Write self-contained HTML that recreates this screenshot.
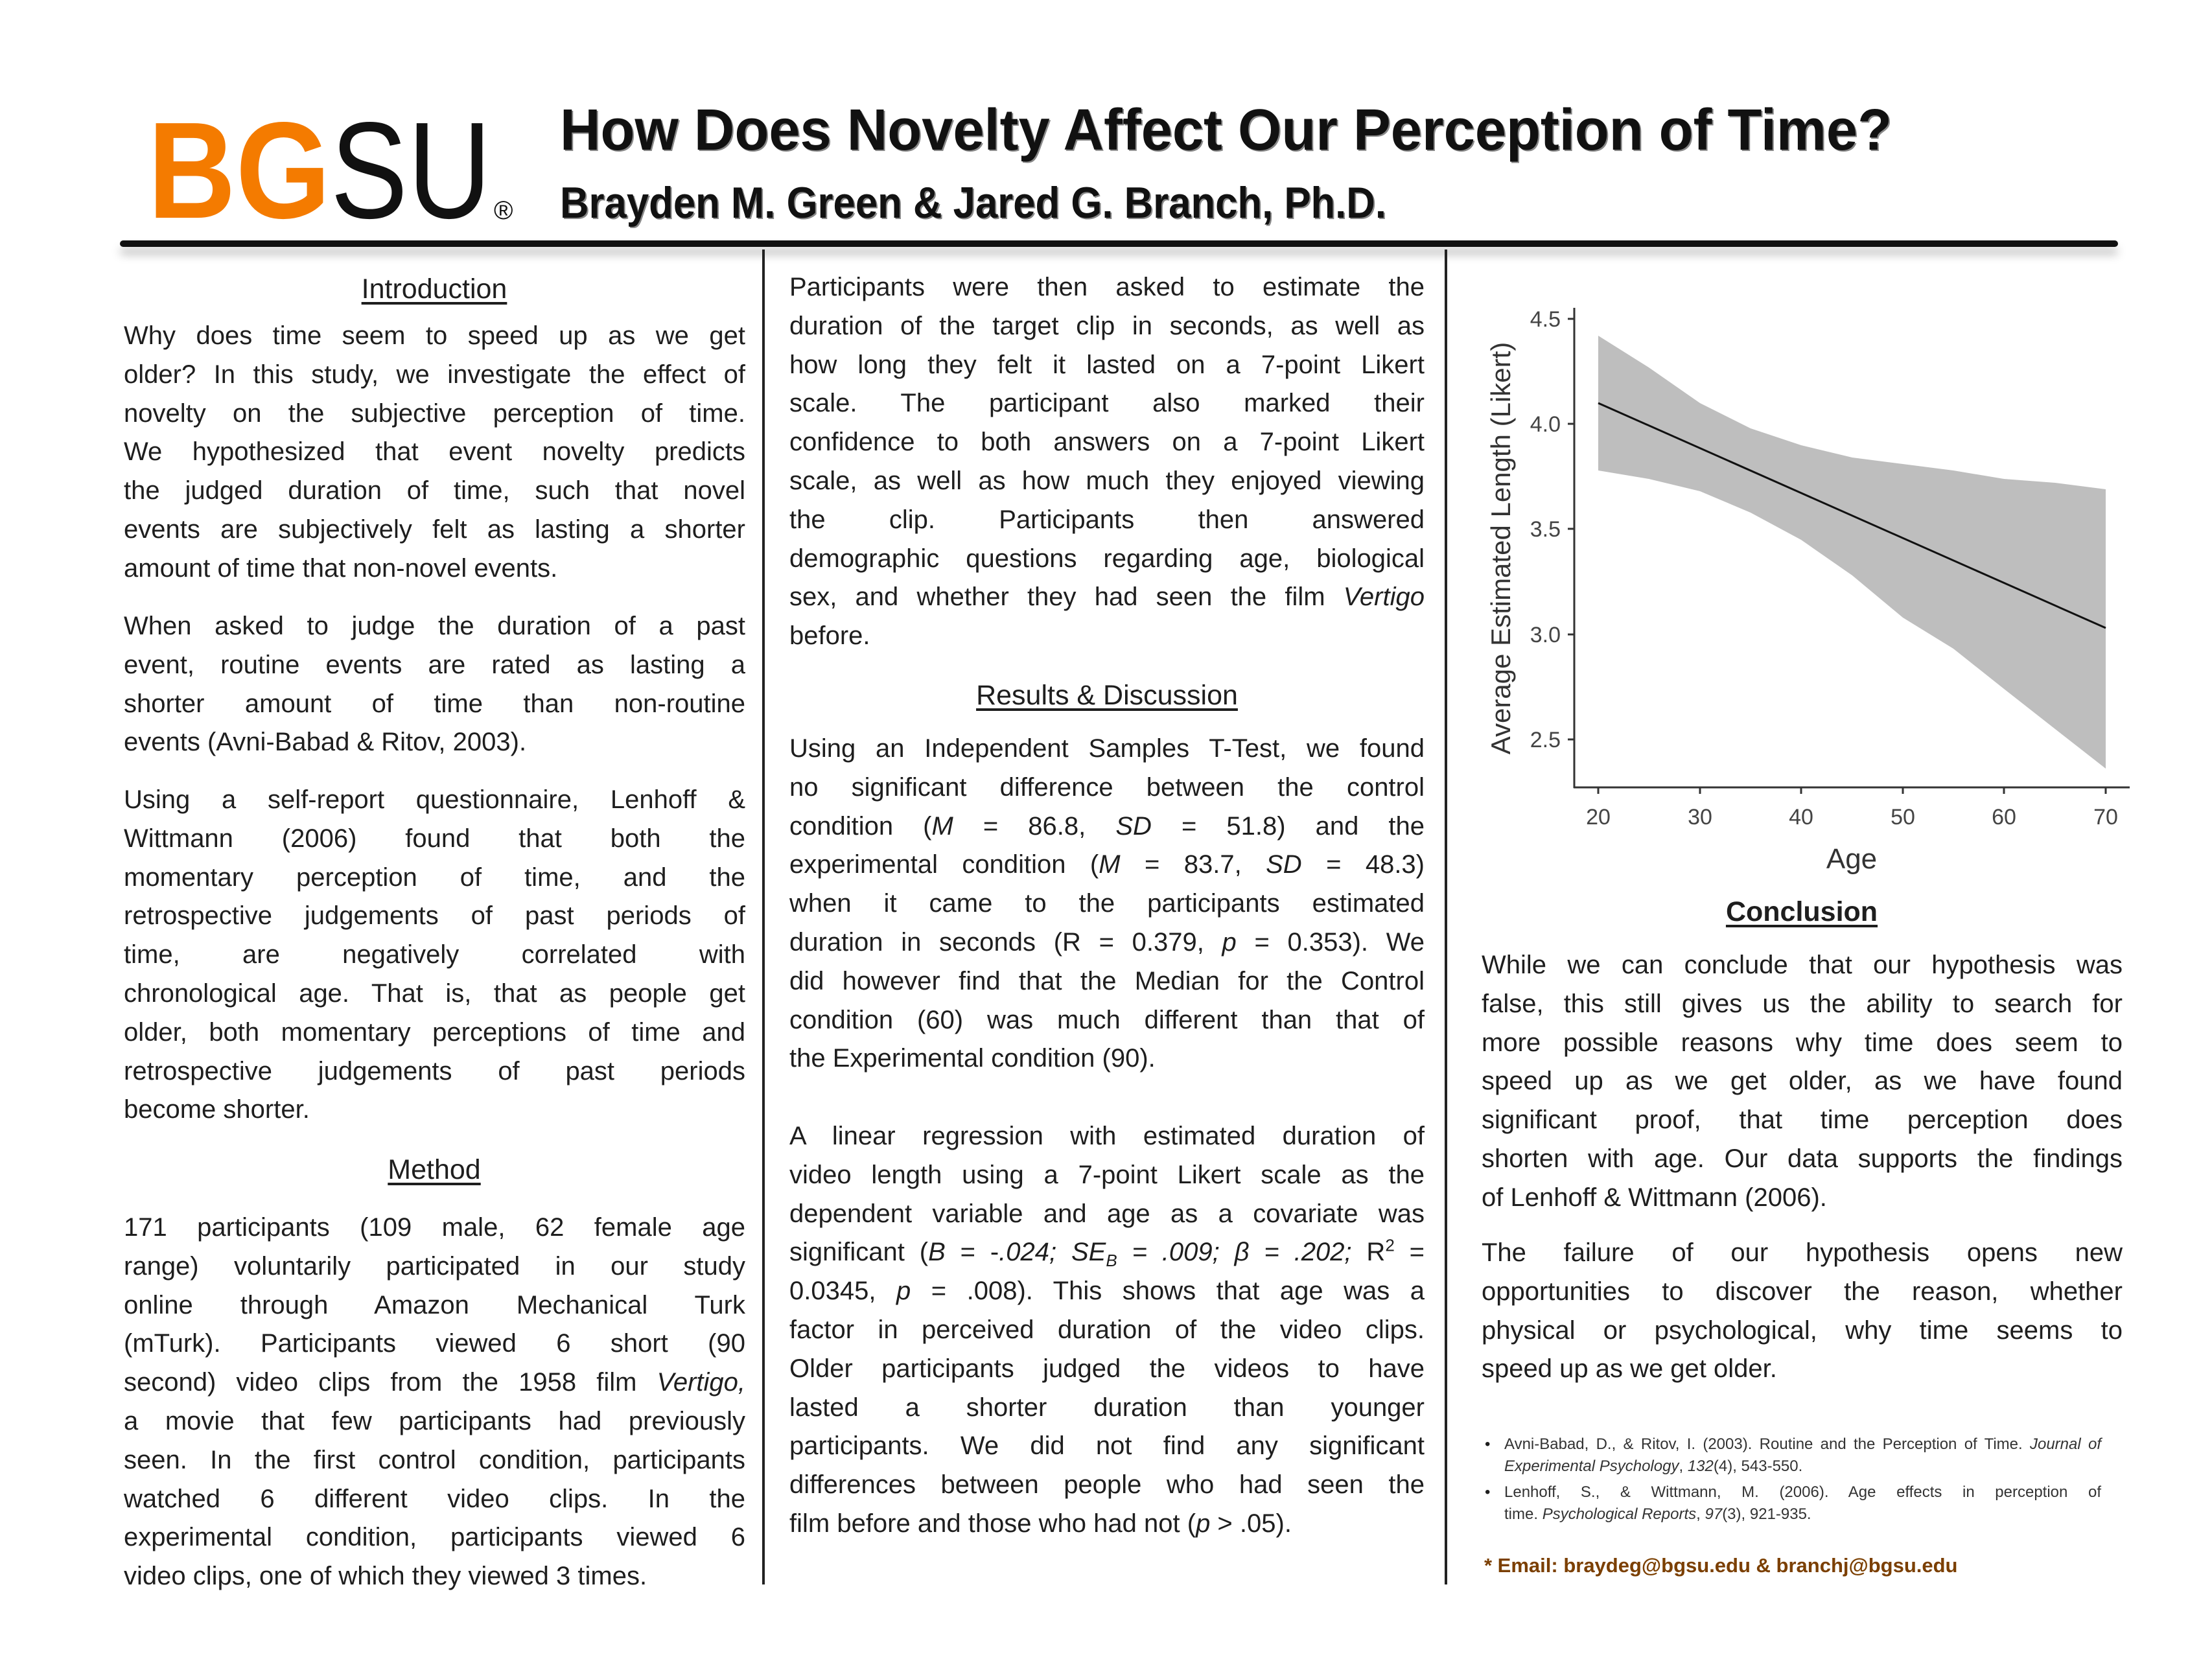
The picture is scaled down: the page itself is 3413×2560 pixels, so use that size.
<!DOCTYPE html>
<html><head><meta charset="utf-8"><style>
*{margin:0;padding:0;box-sizing:border-box}
body{width:3413px;height:2560px;background:#fff;position:relative;overflow:hidden;font-family:"Liberation Sans",sans-serif;color:#1e1e1e}
.p{position:absolute;font-size:40px;line-height:59.8px}
.p div{text-align:justify;text-align-last:justify;white-space:nowrap;overflow:visible}
.p div.l{text-align-last:left}
.h{position:absolute;font-size:43px;line-height:60px;text-decoration:underline;text-underline-offset:6px;transform:translateX(-50%);white-space:nowrap}
.c1{left:191px;width:959px}.c2{left:1218px;width:980px}.c3{left:2286px;width:989px}
.vl{position:absolute;width:4px;background:#222;top:385px;height:2060px}
.ref{position:absolute;left:2321px;width:921px;font-size:24px;line-height:34px;color:#333}
.ref div{text-align:justify;text-align-last:justify;white-space:nowrap}
.ref div.l{text-align-last:left}
.b{position:absolute;left:2291px;font-size:24px;line-height:34px}
</style></head><body>
<svg style="position:absolute;left:0;top:0" width="3413" height="420">
<text x="228" y="336" font-family="Liberation Sans" font-weight="bold" font-size="212" fill="#F47B00" textLength="282" lengthAdjust="spacingAndGlyphs">BG</text>
<text x="510" y="336" font-family="Liberation Sans" font-size="212" fill="#111" textLength="248" lengthAdjust="spacingAndGlyphs">SU</text>
<text x="762" y="338" font-family="Liberation Sans" font-size="40" fill="#111">®</text>
<text x="866" y="233" font-family="Liberation Sans" font-weight="bold" font-size="90" fill="#888" textLength="2055" lengthAdjust="spacingAndGlyphs">How Does Novelty Affect Our Perception of Time?</text>
<text x="864" y="231" font-family="Liberation Sans" font-weight="bold" font-size="90" fill="#111" textLength="2055" lengthAdjust="spacingAndGlyphs">How Does Novelty Affect Our Perception of Time?</text>
<text x="866" y="338" font-family="Liberation Sans" font-weight="bold" font-size="68" fill="#888" textLength="1275" lengthAdjust="spacingAndGlyphs">Brayden M. Green &amp; Jared G. Branch, Ph.D.</text>
<text x="864" y="336" font-family="Liberation Sans" font-weight="bold" font-size="68" fill="#111" textLength="1275" lengthAdjust="spacingAndGlyphs">Brayden M. Green &amp; Jared G. Branch, Ph.D.</text>
</svg>
<div style="position:absolute;left:185px;top:371px;width:3083px;height:10px;background:#111;border-radius:5px;box-shadow:0 12px 14px rgba(0,0,0,0.25)"></div>
<div class="vl" style="left:1176px"></div>
<div class="vl" style="left:2229px"></div>

<div class="h" style="left:670px;top:416px">Introduction</div>
<div class="p c1" style="top:489px">
<div>Why does time seem to speed up as we get</div>
<div>older? In this study, we investigate the effect of</div>
<div>novelty on the subjective perception of time.</div>
<div>We hypothesized that event novelty predicts</div>
<div>the judged duration of time, such that novel</div>
<div>events are subjectively felt as lasting a shorter</div>
<div class="l">amount of time that non-novel events.</div>
</div>
<div class="p c1" style="top:937px">
<div>When asked to judge the duration of a past</div>
<div>event, routine events are rated as lasting a</div>
<div>shorter amount of time than non-routine</div>
<div class="l">events (Avni-Babad &amp; Ritov, 2003).</div>
</div>
<div class="p c1" style="top:1205px">
<div>Using a self-report questionnaire, Lenhoff &amp;</div>
<div>Wittmann (2006) found that both the</div>
<div>momentary perception of time, and the</div>
<div>retrospective judgements of past periods of</div>
<div>time, are negatively correlated with</div>
<div>chronological age. That is, that as people get</div>
<div>older, both momentary perceptions of time and</div>
<div>retrospective judgements of past periods</div>
<div class="l">become shorter.</div>
</div>
<div class="h" style="left:670px;top:1775px">Method</div>
<div class="p c1" style="top:1865px">
<div>171 participants (109 male, 62 female age</div>
<div>range) voluntarily participated in our study</div>
<div>online through Amazon Mechanical Turk</div>
<div>(mTurk). Participants viewed 6 short (90</div>
<div>second) video clips from the 1958 film <i>Vertigo,</i></div>
<div>a movie that few participants had previously</div>
<div>seen. In the first control condition, participants</div>
<div>watched 6 different video clips. In the</div>
<div>experimental condition, participants viewed 6</div>
<div class="l">video clips, one of which they viewed 3 times.</div>
</div>

<div class="p c2" style="top:414px">
<div>Participants were then asked to estimate the</div>
<div>duration of the target clip in seconds, as well as</div>
<div>how long they felt it lasted on a 7-point Likert</div>
<div>scale. The participant also marked their</div>
<div>confidence to both answers on a 7-point Likert</div>
<div>scale, as well as how much they enjoyed viewing</div>
<div>the clip. Participants then answered</div>
<div>demographic questions regarding age, biological</div>
<div>sex, and whether they had seen the film <i>Vertigo</i></div>
<div class="l">before.</div>
</div>
<div class="h" style="left:1708px;top:1043px">Results &amp; Discussion</div>
<div class="p c2" style="top:1126px">
<div>Using an Independent Samples T-Test, we found</div>
<div>no significant difference between the control</div>
<div>condition (<i>M</i> = 86.8, <i>SD</i> = 51.8) and the</div>
<div>experimental condition (<i>M</i> = 83.7, <i>SD</i> = 48.3)</div>
<div>when it came to the participants estimated</div>
<div>duration in seconds (R = 0.379, <i>p</i> = 0.353). We</div>
<div>did however find that the Median for the Control</div>
<div>condition (60) was much different than that of</div>
<div class="l">the Experimental condition (90).</div>
</div>
<div class="p c2" style="top:1724px">
<div>A linear regression with estimated duration of</div>
<div>video length using a 7-point Likert scale as the</div>
<div>dependent variable and age as a covariate was</div>
<div>significant (<i>B</i> = -<i>.024; SE<sub style="font-size:26px;line-height:0">B</sub> = .009; β = .202;</i> R<sup style="font-size:26px;line-height:0">2</sup> =</div>
<div>0.0345, <i>p</i> = .008). This shows that age was a</div>
<div>factor in perceived duration of the video clips.</div>
<div>Older participants judged the videos to have</div>
<div>lasted a shorter duration than younger</div>
<div>participants. We did not find any significant</div>
<div>differences between people who had seen the</div>
<div class="l">film before and those who had not (<i>p</i> &gt; .05).</div>
</div>

<svg style="position:absolute;left:0;top:0" width="3413" height="1500">
<polygon fill="#bebebe" points="2466,518 2544,567 2623,622 2701,661 2779,687 2858,706 2936,716 3014,726 3092,739 3171,745 3249,755 3249,1186 3171,1125 3092,1063 3014,1001 2936,953 2858,888 2779,833 2701,791 2623,758 2544,739 2466,726"/>
<line x1="2466" y1="622" x2="3249" y2="969" stroke="#111" stroke-width="3"/>
<g stroke="#333" stroke-width="3">
<line x1="2429" y1="475" x2="2429" y2="1216"/>
<line x1="2428" y1="1215" x2="3286" y2="1215"/>
<line x1="2419" y1="492" x2="2429" y2="492"/><line x1="2419" y1="654" x2="2429" y2="654"/><line x1="2419" y1="816" x2="2429" y2="816"/><line x1="2419" y1="979" x2="2429" y2="979"/><line x1="2419" y1="1141" x2="2429" y2="1141"/>
<line x1="2466" y1="1215" x2="2466" y2="1225"/><line x1="2623" y1="1215" x2="2623" y2="1225"/><line x1="2779" y1="1215" x2="2779" y2="1225"/><line x1="2936" y1="1215" x2="2936" y2="1225"/><line x1="3092" y1="1215" x2="3092" y2="1225"/><line x1="3249" y1="1215" x2="3249" y2="1225"/>
</g>
<g font-family="Liberation Sans" font-size="34" fill="#444" text-anchor="end">
<text x="2408" y="504">4.5</text><text x="2408" y="666">4.0</text><text x="2408" y="828">3.5</text><text x="2408" y="991">3.0</text><text x="2408" y="1153">2.5</text>
</g>
<g font-family="Liberation Sans" font-size="34" fill="#444" text-anchor="middle">
<text x="2466" y="1272">20</text><text x="2623" y="1272">30</text><text x="2779" y="1272">40</text><text x="2936" y="1272">50</text><text x="3092" y="1272">60</text><text x="3249" y="1272">70</text>
</g>
<text x="2857" y="1340" font-family="Liberation Sans" font-size="44" fill="#333" text-anchor="middle">Age</text>
<text transform="translate(2330,846) rotate(-90)" font-family="Liberation Sans" font-size="42" fill="#333" text-anchor="middle">Average Estimated Length (Likert)</text>
</svg>

<div class="h" style="left:2780px;top:1377px;font-weight:bold">Conclusion</div>
<div class="p c3" style="top:1460px">
<div>While we can conclude that our hypothesis was</div>
<div>false, this still gives us the ability to search for</div>
<div>more possible reasons why time does seem to</div>
<div>speed up as we get older, as we have found</div>
<div>significant proof, that time perception does</div>
<div>shorten with age. Our data supports the findings</div>
<div class="l">of Lenhoff &amp; Wittmann (2006).</div>
</div>
<div class="p c3" style="top:1904px">
<div>The failure of our hypothesis opens new</div>
<div>opportunities to discover the reason, whether</div>
<div>physical or psychological, why time seems to</div>
<div class="l">speed up as we get older.</div>
</div>
<div class="b" style="top:2212px">•</div>
<div class="ref" style="top:2212px">
<div>Avni-Babad, D., &amp; Ritov, I. (2003). Routine and the Perception of Time. <i>Journal of</i></div>
<div class="l"><i>Experimental Psychology</i>, <i>132</i>(4), 543-550.</div>
</div>
<div class="b" style="top:2286px">•</div>
<div class="ref" style="top:2286px">
<div>Lenhoff, S., &amp; Wittmann, M. (2006). Age effects in perception of</div>
<div class="l">time. <i>Psychological Reports</i>, <i>97</i>(3), 921-935.</div>
</div>
<div style="position:absolute;left:2290px;top:2398px;font-size:31px;font-weight:bold;color:#7B3F00;white-space:nowrap">* Email: braydeg@bgsu.edu &amp; branchj@bgsu.edu</div>
</body></html>
